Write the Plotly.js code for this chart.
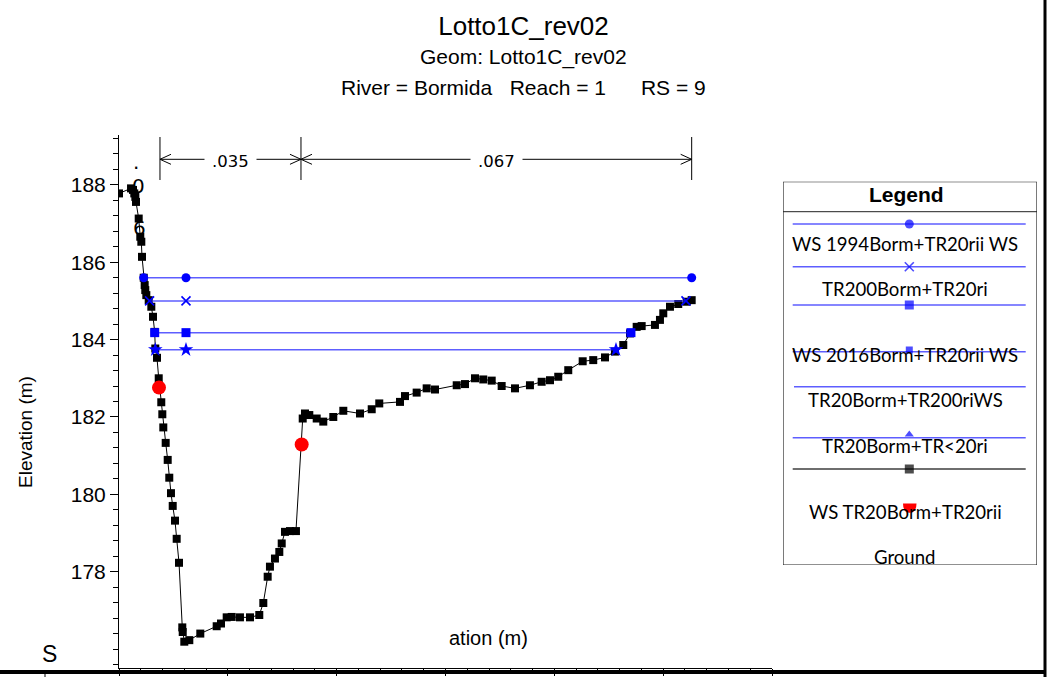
<!DOCTYPE html>
<html><head><meta charset="utf-8">
<script src="https://cdn.plot.ly/plotly-3.0.1.min.js"></script>
<style>html,body{margin:0;padding:0;background:#fff;}#chart{width:1049px;height:677px;}</style>
</head><body><div id="chart"></div>
<script>
// ---------- data ----------
const groundStation = [0, 2.21, 2.57, 2.81, 3.00, 3.12, 3.62, 3.91, 4.10, 4.23,
  4.54, 4.72, 4.83, 5.02, 5.46, 5.94, 6.25, 6.56, 6.67, 6.98,
  7.30, 7.77, 7.96, 8.14, 8.58, 8.95, 9.24, 9.55, 9.87, 10.29,
  10.60, 11.03, 11.63, 11.71, 12.00, 12.92, 14.94, 17.95, 18.74, 19.79,
  20.71, 22.23, 24.07, 25.78, 26.52, 27.32, 27.74, 28.66, 29.46, 29.90,
  30.50, 31.42, 32.52, 33.76, 34.18, 34.97, 36.33, 37.54, 39.38, 41.22,
  44.29, 46.44, 47.83, 51.64, 52.56, 54.70, 56.54, 58.07, 62.06, 63.58,
  65.42, 66.94, 68.49, 70.32, 72.77, 75.52, 77.67, 79.20, 80.72, 82.56,
  85.21, 87.15, 89.31, 91.14, 92.67, 93.90, 95.13, 96.05, 98.49, 99.41,
  100.02, 101.25, 102.77, 104.32, 105.24];
const groundElev = [187.78, 187.91, 187.87, 187.78, 187.69, 187.56, 187.13, 186.66, 186.53, 186.14,
  185.60, 185.41, 185.28, 185.15, 185.02, 184.85, 184.59, 184.20, 183.77, 183.53,
  183.00, 182.38, 182.07, 181.73, 181.33, 180.89, 180.43, 180.03, 179.70, 179.32,
  178.85, 178.23, 176.56, 176.44, 176.19, 176.23, 176.40, 176.59, 176.66, 176.82,
  176.83, 176.82, 176.82, 176.88, 177.19, 177.87, 178.13, 178.34, 178.51, 178.73,
  179.03, 179.05, 179.05, 181.96, 182.09, 182.05, 181.96, 181.88, 182.00, 182.16,
  182.09, 182.20, 182.35, 182.39, 182.54, 182.63, 182.74, 182.71, 182.82, 182.85,
  183.00, 182.97, 182.94, 182.80, 182.74, 182.82, 182.91, 182.95, 183.04, 183.21,
  183.44, 183.47, 183.54, 183.69, 183.86, 184.16, 184.33, 184.35, 184.38, 184.51,
  184.68, 184.85, 184.92, 184.98, 185.02];

const wsAStation = [4.54, 12.31, 105.24];  const wsAElev = [185.60, 185.60, 185.60];
const wsBStation = [5.62, 12.31, 104.19];  const wsBElev = [185.00, 185.00, 185.00];
const wsCStation = [6.56, 12.31, 94.08];   const wsCElev = [184.18, 184.18, 184.18];
const wsDStation = [6.67, 12.31, 91.33];   const wsDElev = [183.74, 183.74, 183.74];
const wsRedStation = [7.35, 33.57];        const wsRedElev = [182.76, 181.29];

const bankStations = [7.53, 33.44, 105.24];
const nValues = ['.035', '.067'];
const leftNChars = ['.', '0', '6'];

const yTickVals = [178, 180, 182, 184, 186, 188];

const legendLabels = ['WS 1994Borm+TR20rii WS', 'TR200Borm+TR20ri', 'WS 2016Borm+TR20rii WS',
  'TR20Borm+TR200riWS', 'TR20Borm+TR&lt;20ri', 'WS TR20Borm+TR20rii', 'Ground'];
const legendSymbols = ['circle', 'x-thin-open', 'square', 'square', 'triangle-up', 'square'];

// ---------- layout helpers (pixel -> paper) ----------
const L = 119, R = 1045, T = 135, B = 668;
const px2x = p => (p - L) / (R - L);
const px2y = p => (B - p) / (B - T);

const BLUE = '#0000ff';
const WSLINE = 'rgba(40,40,255,0.75)';
const font = 'Liberation Sans, Arial, sans-serif';

const traces = [
  {x: groundStation, y: groundElev, type: 'scatter', mode: 'lines+markers',
   line: {color: '#000', width: 1}, marker: {symbol: 'square', size: 8, color: '#000'}},
  {x: wsAStation, y: wsAElev, type: 'scatter', mode: 'lines+markers',
   line: {color: WSLINE, width: 1.5}, marker: {symbol: 'circle', size: 9, color: BLUE}},
  {x: wsBStation, y: wsBElev, type: 'scatter', mode: 'lines+markers',
   line: {color: WSLINE, width: 1.5}, marker: {symbol: 'x-thin-open', size: 9, color: BLUE, line: {width: 1.6, color: BLUE}}},
  {x: wsCStation, y: wsCElev, type: 'scatter', mode: 'lines+markers',
   line: {color: WSLINE, width: 1.5}, marker: {symbol: 'square', size: 9, color: BLUE}},
  {x: wsDStation, y: wsDElev, type: 'scatter', mode: 'lines+markers',
   line: {color: WSLINE, width: 1.5}, marker: {symbol: 'star', size: 11, color: BLUE}},
  {x: wsRedStation, y: wsRedElev, type: 'scatter', mode: 'markers',
   marker: {symbol: 'circle', size: 14, color: '#ff0000'}}
];

// legend rows (pixel positions inside the legend axes)
const legLineY = [224, 266.7, 305, 351.7, 386.7, 437.7, 469];
const legMarkerY = [224, 266.7, 305, 350, 434.5, 469];
const legTextY = [244, 289.3, 355, 400, 446, 511.7, 556.7];
const legMarkerColor = [BLUE, BLUE, BLUE, BLUE, BLUE, '#000'];
const legMarkerSize = [9, 9, 9, 7, 8, 9];
traces.push({x: legMarkerY.map(() => 909.3), y: legMarkerY, xaxis: 'x2', yaxis: 'y2',
  type: 'scatter', mode: 'markers', cliponaxis: false,
  marker: {symbol: legendSymbols, size: legMarkerSize, color: legMarkerColor,
           line: {width: legendSymbols.map(s => s === 'x-thin-open' ? 1.6 : 0), color: legMarkerColor}}});

const shapes = [];
const annotations = [];
const ann = o => annotations.push(Object.assign({showarrow: false, xanchor: 'center', yanchor: 'middle'}, o));

// Manning's n bank markers
const yArrow = px2y(159.3);
bankStations.forEach(s => {
  shapes.push({type: 'line', xref: 'x', yref: 'paper', x0: s, x1: s, y0: px2y(180), y1: px2y(137),
               line: {color: '#000', width: 1}});
});
shapes.push({type: 'line', xref: 'x', yref: 'paper', x0: bankStations[0], x1: bankStations[2],
             y0: yArrow, y1: yArrow, line: {color: '#000', width: 1}});
for (let i = 0; i < bankStations.length - 1; i++) {
  const a = bankStations[i], b = bankStations[i + 1];
  shapes.push({type: 'path', xref: 'x', yref: 'paper', xsizemode: 'pixel', ysizemode: 'pixel',
               xanchor: a, yanchor: yArrow, path: 'M11,5 L0,0 L11,-5', line: {color: '#000', width: 1}});
  shapes.push({type: 'path', xref: 'x', yref: 'paper', xsizemode: 'pixel', ysizemode: 'pixel',
               xanchor: b, yanchor: yArrow, path: 'M-11,5 L0,0 L-11,-5', line: {color: '#000', width: 1}});
  ann({xref: 'x', yref: 'paper', x: (a + b) / 2, y: px2y(161), text: nValues[i],
       bgcolor: '#fff', borderpad: 7, font: {family: 'DejaVu Sans', size: 16.5, color: '#000'}});
}
// vertical left overbank fragments
const leftNPos = [[136, 162], [138.3, 185.7], [139.3, 228.3]];
leftNChars.forEach((c, i) => ann({xref: 'paper', yref: 'paper', x: px2x(leftNPos[i][0]),
  y: px2y(leftNPos[i][1]), text: c, font: {family: 'DejaVu Sans', size: 20, color: '#000'}}));

// titles
ann({xref: 'paper', yref: 'paper', x: px2x(523.5), y: px2y(57.3), text: 'Geom: Lotto1C_rev02',
     font: {family: font, size: 21, color: '#000'}});
ann({xref: 'paper', yref: 'paper', x: px2x(523), y: px2y(87.3),
     text: 'River = Bormida\u00a0\u00a0\u00a0Reach = 1\u00a0\u00a0\u00a0\u00a0\u00a0\u00a0RS = 9',
     font: {family: font, size: 21, color: '#000'}});
ann({xref: 'paper', yref: 'paper', x: px2x(25), y: px2y(432), text: 'Elevation (m)', textangle: -90,
     font: {family: font, size: 19, color: '#000'}});
ann({xref: 'paper', yref: 'paper', x: px2x(488), y: px2y(638), text: 'ation (m)',
     font: {family: font, size: 20, color: '#000'}});
ann({xref: 'paper', yref: 'paper', x: px2x(49), y: px2y(654), text: 'S',
     font: {family: font, size: 23, color: '#000'}});

// legend box
shapes.push({type: 'rect', xref: 'x2', yref: 'y2', x0: 783, x1: 1037, y0: 181.7, y1: 565, line: {color: '#222', width: 1.2}});
shapes.push({type: 'line', xref: 'x2', yref: 'y2', x0: 783, x1: 1037, y0: 211.7, y1: 211.7, line: {color: '#222', width: 1}});
legLineY.forEach((y, i) => shapes.push({type: 'line', xref: 'x2', yref: 'y2', layer: 'below',
  x0: i === 4 ? 794 : 792.7, x1: 1025.7, y0: y, y1: y,
  line: {color: i === 6 ? 'rgb(110,110,110)' : WSLINE, width: i === 6 ? 2 : 1.5}}));
shapes.push({type: 'path', xref: 'x2', yref: 'y2', path: 'M903,503.5 L916.5,503.5 Q916.5,512.7 909.7,512.7 Q903,512.7 903,503.5 Z',
  fillcolor: '#ff0000', line: {width: 0}});
ann({xref: 'x2', yref: 'y2', x: 906.7, y: 194.5, text: '<b>Legend</b>',
     font: {family: font, size: 21, color: '#000'}});
legendLabels.forEach((t, i) => ann({xref: 'x2', yref: 'y2', x: 905, y: legTextY[i], text: t,
  font: {family: 'Lato, sans-serif', size: 18.6, color: '#000'}}));

// outer frame pieces
shapes.push({type: 'line', xref: 'paper', yref: 'paper', x0: px2x(1045), x1: px2x(1045), y0: px2y(677), y1: px2y(0),
  line: {color: '#000', width: 3}});
shapes.push({type: 'line', xref: 'paper', yref: 'paper', x0: px2x(0), x1: px2x(1046), y0: px2y(672), y1: px2y(672),
  line: {color: '#000', width: 4}});
shapes.push({type: 'line', xref: 'paper', yref: 'paper', x0: px2x(45), x1: px2x(45), y0: px2y(677), y1: px2y(672),
  line: {color: '#000', width: 1}});

const layout = {
  width: 1049, height: 677,
  margin: {l: L, r: 1049 - R, t: T, b: 677 - B, pad: 0},
  paper_bgcolor: '#fff', plot_bgcolor: '#fff', showlegend: false,
  title: {text: 'Lotto1C_rev02', x: 523.5 / 1049, xanchor: 'center', y: 1 - 25.7 / 677, yanchor: 'middle',
          yref: 'container', font: {family: font, size: 26, color: '#000'}},
  xaxis: {domain: [0, px2x(772)], range: [0, 120], showline: true, linecolor: '#000', linewidth: 1,
          ticks: 'outside', ticklen: 7, tickcolor: '#000', tick0: 0, dtick: 20, showticklabels: false,
          showgrid: false, zeroline: false, fixedrange: true,
          minor: {dtick: 4, tick0: 0, ticks: 'outside', ticklen: 4, tickcolor: '#000', showgrid: false}},
  yaxis: {domain: [0, 1], range: [175.51, 189.29], showline: true, linecolor: '#000', linewidth: 1,
          tickmode: 'array', tickvals: yTickVals, ticks: 'outside', ticklen: 8, tickcolor: '#000',
          tickfont: {family: font, size: 21, color: '#000'}, showgrid: false, zeroline: false, fixedrange: true,
          minor: {dtick: 0.4, tick0: 0, ticks: 'outside', ticklen: 5, tickcolor: '#000', showgrid: false}},
  xaxis2: {domain: [px2x(783), px2x(1037)], range: [783, 1037], visible: false, anchor: 'y2', fixedrange: true},
  yaxis2: {domain: [px2y(565), px2y(181.7)], range: [565, 181.7], visible: false, anchor: 'x2', fixedrange: true},
  shapes: shapes, annotations: annotations
};

Plotly.newPlot('chart', traces, layout, {displayModeBar: false, staticPlot: true});
</script></body></html>
